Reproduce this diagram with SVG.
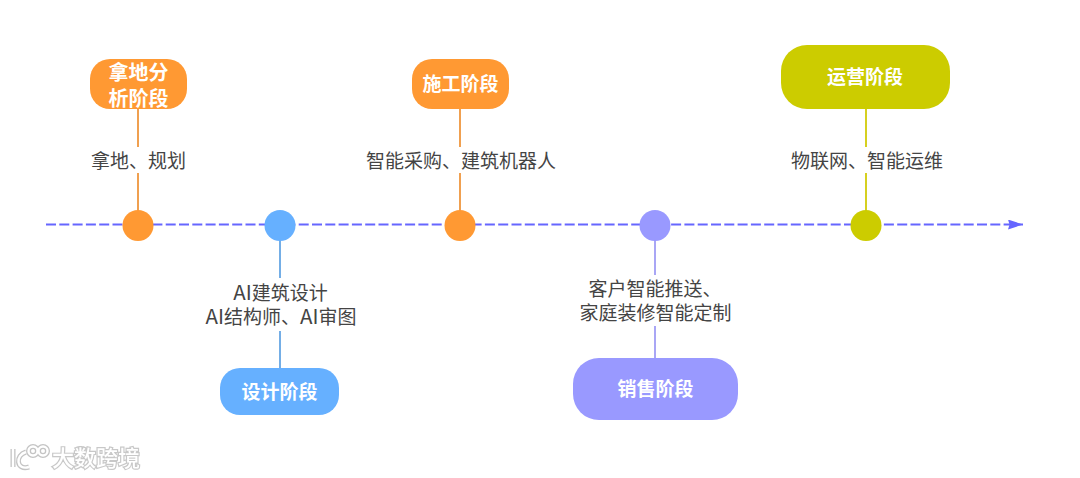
<svg xmlns="http://www.w3.org/2000/svg" width="1080" height="478" viewBox="0 0 1080 478">
<style>
.lab{font-family:"Noto Sans CJK SC","Liberation Sans",sans-serif;font-size:19px;fill:#444;text-anchor:middle}
.ttl{font-family:"Noto Sans CJK SC","Liberation Sans",sans-serif;font-size:19px;font-weight:700;fill:#fff;text-anchor:middle}
.big{font-size:20px}
.ai{font-size:20.500px}
.wm{font-family:"Noto Sans CJK SC","Liberation Sans",sans-serif;font-size:22px;font-weight:500;fill:#fff;stroke:#c8c8c8;stroke-width:2.400;paint-order:stroke;filter:url(#b)}
.c{stroke-width:2;fill:none}
</style>
<defs>
<marker id="arr" markerUnits="userSpaceOnUse" markerWidth="16" markerHeight="12" refX="15" refY="5" orient="auto"><path d="M0 0L15 5L0 10L1.500 5Z" fill="#6666ff"/></marker>
<filter id="b" x="-20%" y="-20%" width="140%" height="140%"><feGaussianBlur stdDeviation="0.500"/></filter>
<g id="logo" fill="none"><path d="M13 449V467M26 452C15 455 16 471 29 467"/><circle cx="33" cy="451" r="4.500"/><circle cx="43" cy="451" r="4.500"/></g>
</defs>
<rect width="1080" height="478" fill="#fff"/>
<g id="connectors">
<path d="M46 224.500H1023" stroke="#6666ff" stroke-width="2" stroke-dasharray="10 3.300" fill="none" marker-end="url(#arr)"/>
<path class="c" stroke="#f0a050" d="M138 109V147M138 173V212"/>
<path class="c" stroke="#74aee6" d="M280 240V278M280 331V369"/>
<path class="c" stroke="#f0a050" d="M460 109V147M460 173V212"/>
<path class="c" stroke="#a9a6f5" d="M655 240V275M655 326V358"/>
<path class="c" stroke="#d6d020" d="M866 109V147M866 173V212"/>
</g>
<g id="node-land"><rect x="90" y="59" width="97" height="50" rx="20" fill="#ff9933"/><text class="ttl big"><tspan x="138.500" y="80">拿地分</tspan><tspan x="138.500" y="106">析阶段</tspan></text><circle cx="138" cy="225.500" r="15.500" fill="#ff9933"/><text class="lab" x="138.500" y="168">拿地、规划</text></g>
<g id="node-design"><rect x="220" y="368" width="119" height="47" rx="20" fill="#66b0ff"/><text class="ttl" x="279.500" y="399">设计阶段</text><circle cx="280" cy="225.500" r="15.500" fill="#66b0ff"/><text class="lab"><tspan x="280.500" y="300"><tspan class="ai">AI</tspan>建筑设计</tspan><tspan x="281" y="324"><tspan class="ai">AI</tspan>结构师、<tspan class="ai">AI</tspan>审图</tspan></text></g>
<g id="node-build"><rect x="412" y="59" width="97" height="50" rx="20" fill="#ff9933"/><text class="ttl" x="460.500" y="91">施工阶段</text><circle cx="460" cy="225.500" r="15.500" fill="#ff9933"/><text class="lab" x="461" y="168">智能采购、建筑机器人</text></g>
<g id="node-sale"><rect x="573" y="358" width="165" height="62" rx="26" fill="#9999ff"/><text class="ttl" x="655.500" y="396">销售阶段</text><circle cx="655" cy="225.500" r="15.500" fill="#9999ff"/><text class="lab"><tspan x="655" y="296">客户智能推送、</tspan><tspan x="655.500" y="320">家庭装修智能定制</tspan></text></g>
<g id="node-ops"><rect x="781" y="45" width="169" height="64" rx="26" fill="#cccc00"/><text class="ttl" x="865" y="84">运营阶段</text><circle cx="866" cy="225.500" r="15.500" fill="#cccc00"/><text class="lab" x="867" y="168">物联网、智能运维</text></g>
<g id="watermark"><use href="#logo" stroke="#c4c4c4" stroke-width="5" filter="url(#b)"/><use href="#logo" stroke="#fff" stroke-width="2.400"/><text class="wm" x="52" y="466">大数跨境</text></g>
</svg>
